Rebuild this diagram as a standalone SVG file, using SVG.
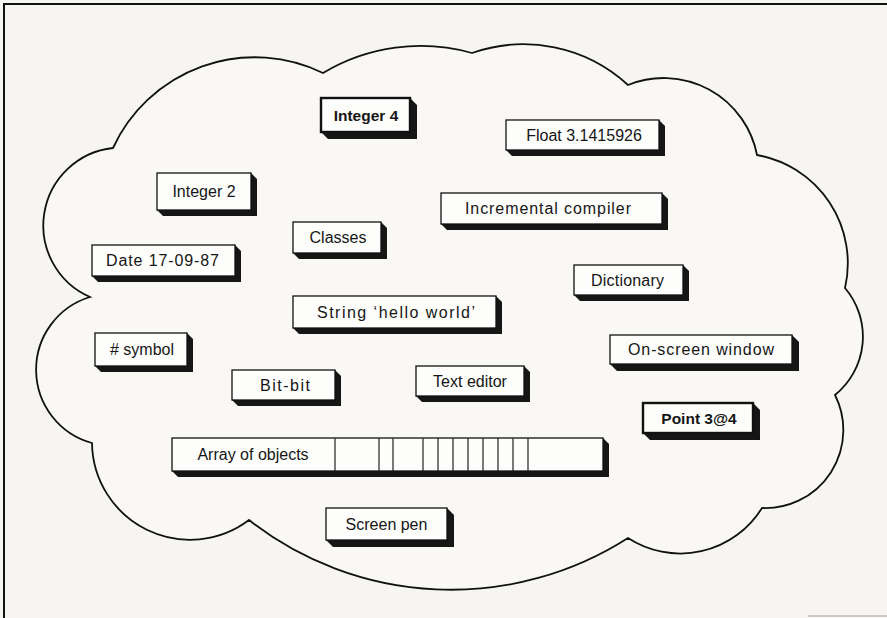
<svg xmlns="http://www.w3.org/2000/svg" width="887" height="618" viewBox="0 0 887 618">
  <style>
    .bg { fill: #f7f5f1; }
    .frame { stroke: #111; stroke-width: 2; fill: none; }
    .cloud { fill: #f9f8f5; stroke: #111; stroke-width: 1.8; stroke-linejoin: miter; }
    .face { fill: #fdfdfb; stroke: #111; stroke-width: 1.3; }
    .face.strong { stroke-width: 2.4; }
    .shade { fill: #161616; }
    .lbl { font-family: "Liberation Sans", Arial, sans-serif; font-size: 16px; fill: #161616; text-anchor: middle; }
    .lbl.strong { font-weight: bold; font-size: 15.5px; }
    .cell { stroke: #222; stroke-width: 1.2; }
  </style>

  <rect class="bg" x="0" y="0" width="887" height="618"/>
  <!-- page frame (top and left rules) -->
  <path class="frame" d="M4 618 V4 H887"/>
  <line x1="808" y1="616" x2="887" y2="616" stroke="#c9c9c6" stroke-width="2"/>

  <!-- cloud outline -->
  <path class="cloud" d="M113 148
    A156 156 0 0 1 323 73
    A190 190 0 0 1 472 53
    A155 155 0 0 1 628 85
    A95 95 0 0 1 757 155
    A110 110 0 0 1 845 288
    A75 75 0 0 1 835 395
    A78 78 0 0 1 762 508
    A96 96 0 0 1 628 538
    A328 328 0 0 1 249 520
    A98 98 0 0 1 92 443
    A76 76 0 0 1 90 297
    A78 78 0 0 1 113 148 Z"/>

  <g id="nodes">
    <g id="integer4">
      <polygon class="shade" points="410,98 417,105 417,139 328,139 321,132"/>
      <rect class="face strong" x="321" y="98" width="89" height="34"/>
      <text class="lbl strong" x="366" y="120.5">Integer 4</text>
    </g>
    <g id="float">
      <polygon class="shade" points="659,120 665,126 665,156 512,156 506,150"/>
      <rect class="face" x="506" y="120" width="153" height="30"/>
      <text class="lbl" x="584" y="140.5">Float 3.1415926</text>
    </g>
    <g id="integer2">
      <polygon class="shade" points="251,173 257,179 257,216 163,216 157,210"/>
      <rect class="face" x="157" y="173" width="94" height="37"/>
      <text class="lbl" x="204" y="197">Integer 2</text>
    </g>
    <g id="compiler">
      <polygon class="shade" points="662,193 668,199 668,230 447,230 441,224"/>
      <rect class="face" x="441" y="193" width="221" height="31"/>
      <text class="lbl" x="548" y="214" textLength="166" lengthAdjust="spacing">Incremental compiler</text>
    </g>
    <g id="classes">
      <polygon class="shade" points="381,222 387,228 387,259 299,259 293,253"/>
      <rect class="face" x="293" y="222" width="88" height="31"/>
      <text class="lbl" x="338" y="243">Classes</text>
    </g>
    <g id="date">
      <polygon class="shade" points="235,245 241,251 241,282 98,282 92,276"/>
      <rect class="face" x="92" y="245" width="143" height="31"/>
      <text class="lbl" x="162.5" y="266" textLength="113" lengthAdjust="spacing">Date 17-09-87</text>
    </g>
    <g id="dictionary">
      <polygon class="shade" points="683,265 689,271 689,301 580,301 574,295"/>
      <rect class="face" x="574" y="265" width="109" height="30"/>
      <text class="lbl" x="627.5" y="285.5" textLength="73" lengthAdjust="spacing">Dictionary</text>
    </g>
    <g id="string">
      <polygon class="shade" points="496,296 502,302 502,334 299,334 293,328"/>
      <rect class="face" x="293" y="296" width="203" height="32"/>
      <text class="lbl" x="396" y="317.5" textLength="158" lengthAdjust="spacing">String ‘hello world’</text>
    </g>
    <g id="symbol">
      <polygon class="shade" points="187,333 193,339 193,372 101,372 95,366"/>
      <rect class="face" x="95" y="333" width="92" height="33"/>
      <text class="lbl" x="142" y="355" textLength="64" lengthAdjust="spacing"># symbol</text>
    </g>
    <g id="window">
      <polygon class="shade" points="792,335 799,342 799,371 617,371 610,364"/>
      <rect class="face" x="610" y="335" width="182" height="29"/>
      <text class="lbl" x="701" y="355" textLength="146" lengthAdjust="spacing">On-screen window</text>
    </g>
    <g id="bitbit">
      <polygon class="shade" points="335,370 341,376 341,406 238,406 232,400"/>
      <rect class="face" x="232" y="370" width="103" height="30"/>
      <text class="lbl" x="285" y="390.5" textLength="50" lengthAdjust="spacing">Bit-bit</text>
    </g>
    <g id="editor">
      <polygon class="shade" points="524,366 530,372 530,402 422,402 416,396"/>
      <rect class="face" x="416" y="366" width="108" height="30"/>
      <text class="lbl" x="470" y="386.5">Text editor</text>
    </g>
    <g id="point">
      <polygon class="shade" points="753,403 760,410 760,440 650,440 643,433"/>
      <rect class="face strong" x="643" y="403" width="110" height="30"/>
      <text class="lbl strong" x="699" y="423.5">Point 3@4</text>
    </g>
    <g id="array">
      <polygon class="shade" points="603,438 609,444 609,477 178,477 172,471"/>
      <rect class="face" x="172" y="438" width="431" height="33"/>
      <text class="lbl" x="253" y="460">Array of objects</text>
      <path class="cell" d="M335 438V471 M379 438V471 M393 438V471 M423 438V471 M438 438V471 M453 438V471 M468 438V471 M483 438V471 M498 438V471 M513 438V471 M528 438V471"/>
    </g>
    <g id="screenpen">
      <polygon class="shade" points="447,508 454,515 454,547 333,547 326,540"/>
      <rect class="face" x="326" y="508" width="121" height="32"/>
      <text class="lbl" x="386.5" y="529.5">Screen pen</text>
    </g>
  </g>
</svg>
